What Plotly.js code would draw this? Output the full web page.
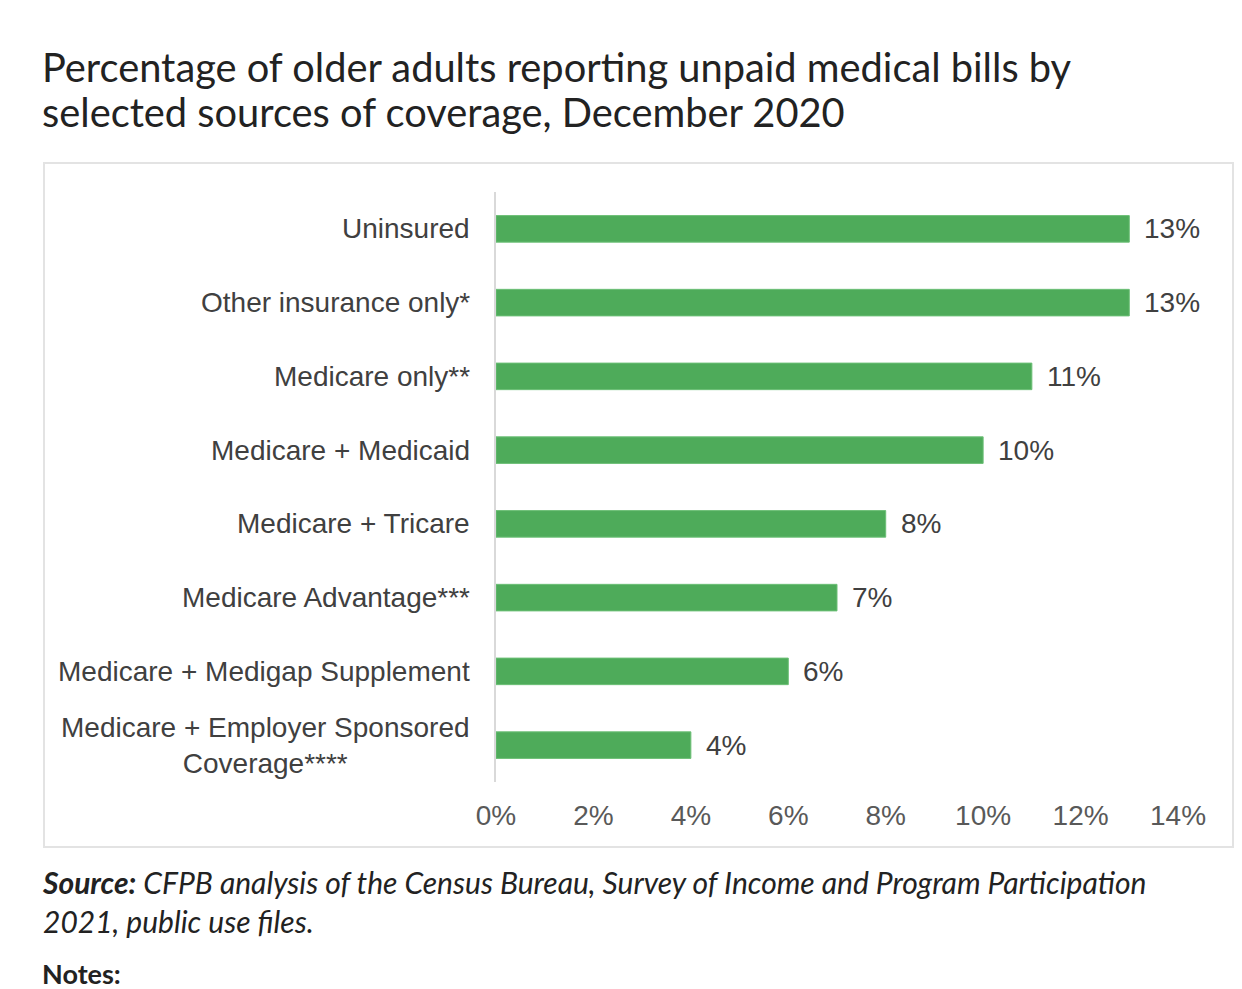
<!DOCTYPE html>
<html>
<head>
<meta charset="utf-8">
<script src="https://cdn.plot.ly/plotly-3.0.1.min.js"></script>
<style>
html,body{margin:0;padding:0;background:#fff;}
#chart{width:1242px;height:989px;}
</style>
</head>
<body>
<div id="chart"></div>
<script>
// Data
const categories = [
  "Uninsured",
  "Other insurance only*",
  "Medicare only**",
  "Medicare + Medicaid",
  "Medicare + Tricare",
  "Medicare Advantage***",
  "Medicare + Medigap Supplement",
  "Medicare + Employer Sponsored<br>Coverage****"
];
const values = [13, 13, 11, 10, 8, 7, 6, 4];
const valueLabels = ["13%", "13%", "11%", "10%", "8%", "7%", "6%", "4%"];
const tickVals = [0, 2, 4, 6, 8, 10, 12, 14];
const tickText = ["0%", "2%", "4%", "6%", "8%", "10%", "12%", "14%"];
const titleLines = [
  "Percentage of older adults reporting unpaid medical bills by",
  "selected sources of coverage, December 2020"
];
const sourceText = "<b><i>Source:</i></b><i> CFPB analysis of the Census Bureau, Survey of Income and Program Participation<br>2021, public use files.</i>";
const notesText = "<b>Notes:</b>";

// Layout geometry (pixels)
const W = 1242, H = 989;
const L = 496, R = 1178, T = 192, B = 782;
const pw = R - L, ph = B - T;
const px = x => (x - L) / pw;
const py = y => (B - y) / ph;

const labelFont = {family: "Liberation Sans, Arial, sans-serif", size: 28, color: "#404040"};

const annotations = [];
categories.forEach((c, i) => {
  annotations.push({
    xref: "paper", yref: "y", x: px(472), y: c, xanchor: "right", yanchor: "middle",
    text: c, showarrow: false, align: "center", font: labelFont
  });
  annotations.push({
    xref: "x", yref: "y", x: values[i], y: c, xanchor: "left", yanchor: "middle",
    xshift: 13, text: valueLabels[i], showarrow: false, font: labelFont
  });
});
const titleCenters = [66, 112];
titleLines.forEach((t, i) => {
  annotations.push({
    xref: "paper", yref: "paper", x: px(40), y: py(titleCenters[i]), xanchor: "left", yanchor: "middle",
    text: t, showarrow: false, align: "left",
    font: {family: "Lato, 'Open Sans', sans-serif", size: 39.8, color: "#222"}
  });
});
annotations.push({
  xref: "paper", yref: "paper", x: px(40), y: py(862), xanchor: "left", yanchor: "top",
  text: sourceText, showarrow: false, align: "left",
  font: {family: "Lato, 'Open Sans', sans-serif", size: 30, color: "#222"}
});
annotations.push({
  xref: "paper", yref: "paper", x: px(40), y: py(955), xanchor: "left", yanchor: "top",
  text: notesText, showarrow: false, align: "left",
  font: {family: "Lato, 'Open Sans', sans-serif", size: 27, color: "#222"}
});

const trace = {
  type: "bar", orientation: "h",
  x: values, y: categories,
  marker: {color: "#4eab5a", line: {color: "#6cbf76", width: 1}},
  hoverinfo: "skip"
};

const layout = {
  width: W, height: H,
  margin: {l: L, r: W - R, t: T, b: H - B, pad: 0},
  paper_bgcolor: "#fff", plot_bgcolor: "#fff",
  showlegend: false,
  bargap: 0.64,
  xaxis: {
    range: [0, 14], tickvals: tickVals, ticktext: tickText,
    showgrid: false, zeroline: false, showline: false, ticks: "",
    ticklabelstandoff: 14,
    tickfont: {family: "Liberation Sans, Arial, sans-serif", size: 28, color: "#595959"},
    fixedrange: true
  },
  yaxis: {
    categoryorder: "array", categoryarray: categories.slice().reverse(),
    showticklabels: false, showgrid: false, zeroline: false,
    showline: true, linecolor: "#d9d9d9", linewidth: 2, ticks: "",
    fixedrange: true
  },
  shapes: [{
    type: "rect", xref: "paper", yref: "paper",
    x0: px(44), x1: px(1233), y0: py(847), y1: py(163),
    line: {color: "#e3e3e3", width: 2}, fillcolor: "rgba(0,0,0,0)", layer: "below"
  }],
  annotations: annotations
};

Plotly.newPlot("chart", [trace], layout, {displayModeBar: false, staticPlot: true});
</script>
</body>
</html>
